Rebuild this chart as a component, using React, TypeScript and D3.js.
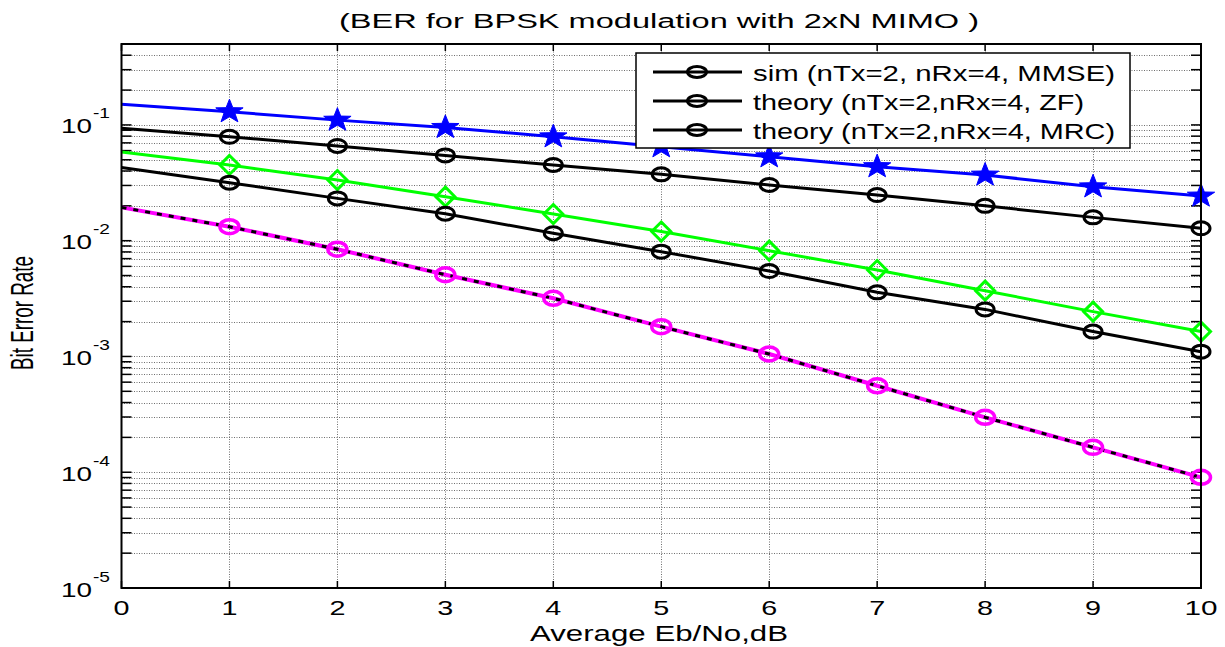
import React, { useRef, useEffect } from "react";
import * as d3 from "d3";

// Eb/No axis (dB)
const ebNoDb = [0, 1, 2, 3, 4, 5, 6, 7, 8, 9, 10];

// BER curves
const berStar = [0.151, 0.130, 0.110, 0.0952, 0.0790, 0.0648, 0.0531, 0.0436, 0.0369, 0.0292, 0.0243];
const berCircleTop = [0.0935, 0.0790, 0.0658, 0.0545, 0.0451, 0.0374, 0.0303, 0.0248, 0.0200, 0.0159, 0.0128];
const berDiamond = [0.0583, 0.0451, 0.0334, 0.0240, 0.0170, 0.0120, 0.0082, 0.00558, 0.00370, 0.00244, 0.00164];
const berCircleLow = [0.0428, 0.0317, 0.0232, 0.0171, 0.0116, 0.00804, 0.00547, 0.00358, 0.00255, 0.00164, 0.00110];
const berMrc = [0.0194, 0.0132, 0.00844, 0.00508, 0.00318, 0.00181, 0.00105, 0.000558, 0.000298, 0.000164, 0.0000904];

const xTicks = [0, 1, 2, 3, 4, 5, 6, 7, 8, 9, 10];
const yDecades = [-5, -4, -3, -2, -1];
const legendLabels = [
  "sim (nTx=2, nRx=4, MMSE)",
  "theory (nTx=2,nRx=4, ZF)",
  "theory (nTx=2,nRx=4, MRC)",
];
const legendWidths = [362, 331, 362];

const titleText = "(BER for BPSK modulation with 2xN MIMO )";
const xLabelText = "Average Eb/No,dB";
const yLabelText = "Bit Error Rate";

const FONT = "'Liberation Sans', Arial, sans-serif";

const starPath = (R: number) => {
  const r = R * 0.4;
  const pts: string[] = [];
  for (let i = 0; i < 10; i++) {
    const rad = i % 2 === 0 ? R : r;
    const a = -Math.PI / 2 + (i * Math.PI) / 5;
    pts.push(`${(rad * Math.cos(a) * 1.15).toFixed(2)},${(rad * Math.sin(a)).toFixed(2)}`);
  }
  return "M" + pts.join("L") + "Z";
};

const App = () => {
  const svgRef = useRef<SVGSVGElement>(null);

  useEffect(() => {
    const svg = d3.select(svgRef.current);
    svg.selectAll("*").remove();

    const left = 121.5, right = 1201, top = 44, bottom = 588;
    const x = d3.scaleLinear().domain([0, 10]).range([left, right]);
    const y = d3.scaleLog().domain([1e-5, 0.5]).range([bottom, top]);

    svg.append("rect").attr("width", 1225).attr("height", 647).attr("fill", "#fff");

    // grid
    const minorVals: number[] = [];
    yDecades.forEach((e) => {
      for (let m = 1; m <= 9; m++) {
        const v = m * Math.pow(10, e);
        if (v < 0.5) minorVals.push(v);
      }
    });
    const grid = svg.append("g").attr("stroke", "#6e6e6e").attr("stroke-width", 1).attr("stroke-dasharray", "1,1.5");
    grid.selectAll("line.h").data(minorVals.filter((v) => v > 1e-5)).enter().append("line")
      .attr("x1", left).attr("x2", right)
      .attr("y1", (d) => Math.round(y(d)) + 0.5).attr("y2", (d) => Math.round(y(d)) + 0.5);
    grid.selectAll("line.v").data(xTicks.filter((t) => t > 0 && t < 10)).enter().append("line")
      .attr("y1", top).attr("y2", bottom)
      .attr("x1", (d) => Math.round(x(d)) + 0.5).attr("x2", (d) => Math.round(x(d)) + 0.5);

    // ticks
    const ticks = svg.append("g").attr("stroke", "#000").attr("stroke-width", 1.5);
    minorVals.forEach((v) => {
      const yy = y(v);
      ticks.append("line").attr("x1", left).attr("x2", left + 10).attr("y1", yy).attr("y2", yy);
      ticks.append("line").attr("x1", right - 10).attr("x2", right).attr("y1", yy).attr("y2", yy);
    });
    xTicks.forEach((t) => {
      ticks.append("line").attr("x1", x(t)).attr("x2", x(t)).attr("y1", bottom).attr("y2", bottom - 7);
      ticks.append("line").attr("x1", x(t)).attr("x2", x(t)).attr("y1", top).attr("y2", top + 7);
    });

    // series
    const lineGen = d3.line<number>().x((d, i) => x(ebNoDb[i])).y((d) => y(d));
    const series = [
      { data: berStar, color: "#0000ff", marker: "star" },
      { data: berCircleTop, color: "#000000", marker: "circle" },
      { data: berDiamond, color: "#00ff00", marker: "diamond" },
      { data: berCircleLow, color: "#000000", marker: "circle" },
      { data: berMrc, color: "#ff00ff", marker: "circleBig" },
    ];
    series.forEach((s) => {
      svg.append("path").attr("d", lineGen(s.data)).attr("fill", "none")
        .attr("stroke", s.color).attr("stroke-width", s.marker === "circleBig" ? 4 : 3);
    });
    // black dashed theory line over the magenta one
    svg.append("path").attr("d", lineGen(berMrc)).attr("fill", "none")
      .attr("stroke", "#000").attr("stroke-width", 3).attr("stroke-dasharray", "5,7");

    series.forEach((s) => {
      const g = svg.append("g");
      s.data.forEach((v, i) => {
        if (i === 0) return;
        const cx = x(ebNoDb[i]), cy = y(v);
        if (s.marker === "star") {
          g.append("path").attr("d", starPath(12.5)).attr("transform", `translate(${cx},${cy})`)
            .attr("fill", s.color).attr("stroke", s.color).attr("stroke-width", 1);
        } else if (s.marker === "diamond") {
          g.append("path").attr("d", "M0,-9.5L9.5,0L0,9.5L-9.5,0Z").attr("transform", `translate(${cx},${cy})`)
            .attr("fill", "none").attr("stroke", s.color).attr("stroke-width", 3);
        } else if (s.marker === "circle") {
          g.append("ellipse").attr("cx", cx).attr("cy", cy).attr("rx", 9).attr("ry", 6.5)
            .attr("fill", "none").attr("stroke", s.color).attr("stroke-width", 3);
        } else {
          g.append("ellipse").attr("cx", cx).attr("cy", cy).attr("rx", 9.5).attr("ry", 7)
            .attr("fill", "none").attr("stroke", s.color).attr("stroke-width", 3.5);
        }
      });
    });

    // axes box
    svg.append("rect").attr("x", left).attr("y", top).attr("width", right - left).attr("height", bottom - top)
      .attr("fill", "none").attr("stroke", "#000").attr("stroke-width", 2);

    // tick labels
    const labels = svg.append("g").attr("font-family", FONT).attr("fill", "#000");
    xTicks.forEach((t) => {
      labels.append("text").attr("x", x(t)).attr("y", 615).attr("text-anchor", "middle")
        .attr("font-size", 21).attr("textLength", t < 10 ? 16 : 33).attr("lengthAdjust", "spacingAndGlyphs")
        .text(String(t));
    });
    yDecades.forEach((e) => {
      const yy = y(Math.pow(10, e));
      labels.append("text").attr("x", 92).attr("y", yy + 8.5).attr("text-anchor", "end")
        .attr("font-size", 21).attr("textLength", 31).attr("lengthAdjust", "spacingAndGlyphs").text("10");
      labels.append("text").attr("x", 93).attr("y", yy - 6.5).attr("text-anchor", "start")
        .attr("font-size", 14).attr("textLength", 17).attr("lengthAdjust", "spacingAndGlyphs").text(String(e));
    });

    // title + axis labels
    labels.append("text").attr("x", 659).attr("y", 28).attr("text-anchor", "middle")
      .attr("font-size", 20).attr("textLength", 640).attr("lengthAdjust", "spacingAndGlyphs").text(titleText);
    labels.append("text").attr("x", 659).attr("y", 641).attr("text-anchor", "middle")
      .attr("font-size", 22).attr("textLength", 258).attr("lengthAdjust", "spacingAndGlyphs").text(xLabelText);
    labels.append("text").attr("transform", "translate(33,313) scale(1.45,1) rotate(-90)")
      .attr("text-anchor", "middle").attr("font-size", 21).attr("textLength", 114)
      .attr("lengthAdjust", "spacingAndGlyphs").text(yLabelText);

    // legend
    const lg = svg.append("g");
    lg.append("rect").attr("x", 636).attr("y", 53).attr("width", 494).attr("height", 95)
      .attr("fill", "#fff").attr("stroke", "#000").attr("stroke-width", 1.5);
    legendLabels.forEach((lab, i) => {
      const ry = 72 + i * 29;
      lg.append("line").attr("x1", 653).attr("x2", 742).attr("y1", ry).attr("y2", ry)
        .attr("stroke", "#000").attr("stroke-width", 3);
      lg.append("ellipse").attr("cx", 697).attr("cy", ry).attr("rx", 9.5).attr("ry", 5.5)
        .attr("fill", "none").attr("stroke", "#000").attr("stroke-width", 3);
      lg.append("text").attr("x", 753).attr("y", ry + 9).attr("font-family", FONT).attr("font-size", 22)
        .attr("textLength", legendWidths[i]).attr("lengthAdjust", "spacingAndGlyphs").text(lab);
    });
  }, []);

  return (
    <svg ref={svgRef} width={1225} height={647}
      style={{ position: "absolute", left: 0, top: 0, display: "block" }} />
  );
};

export default App;
